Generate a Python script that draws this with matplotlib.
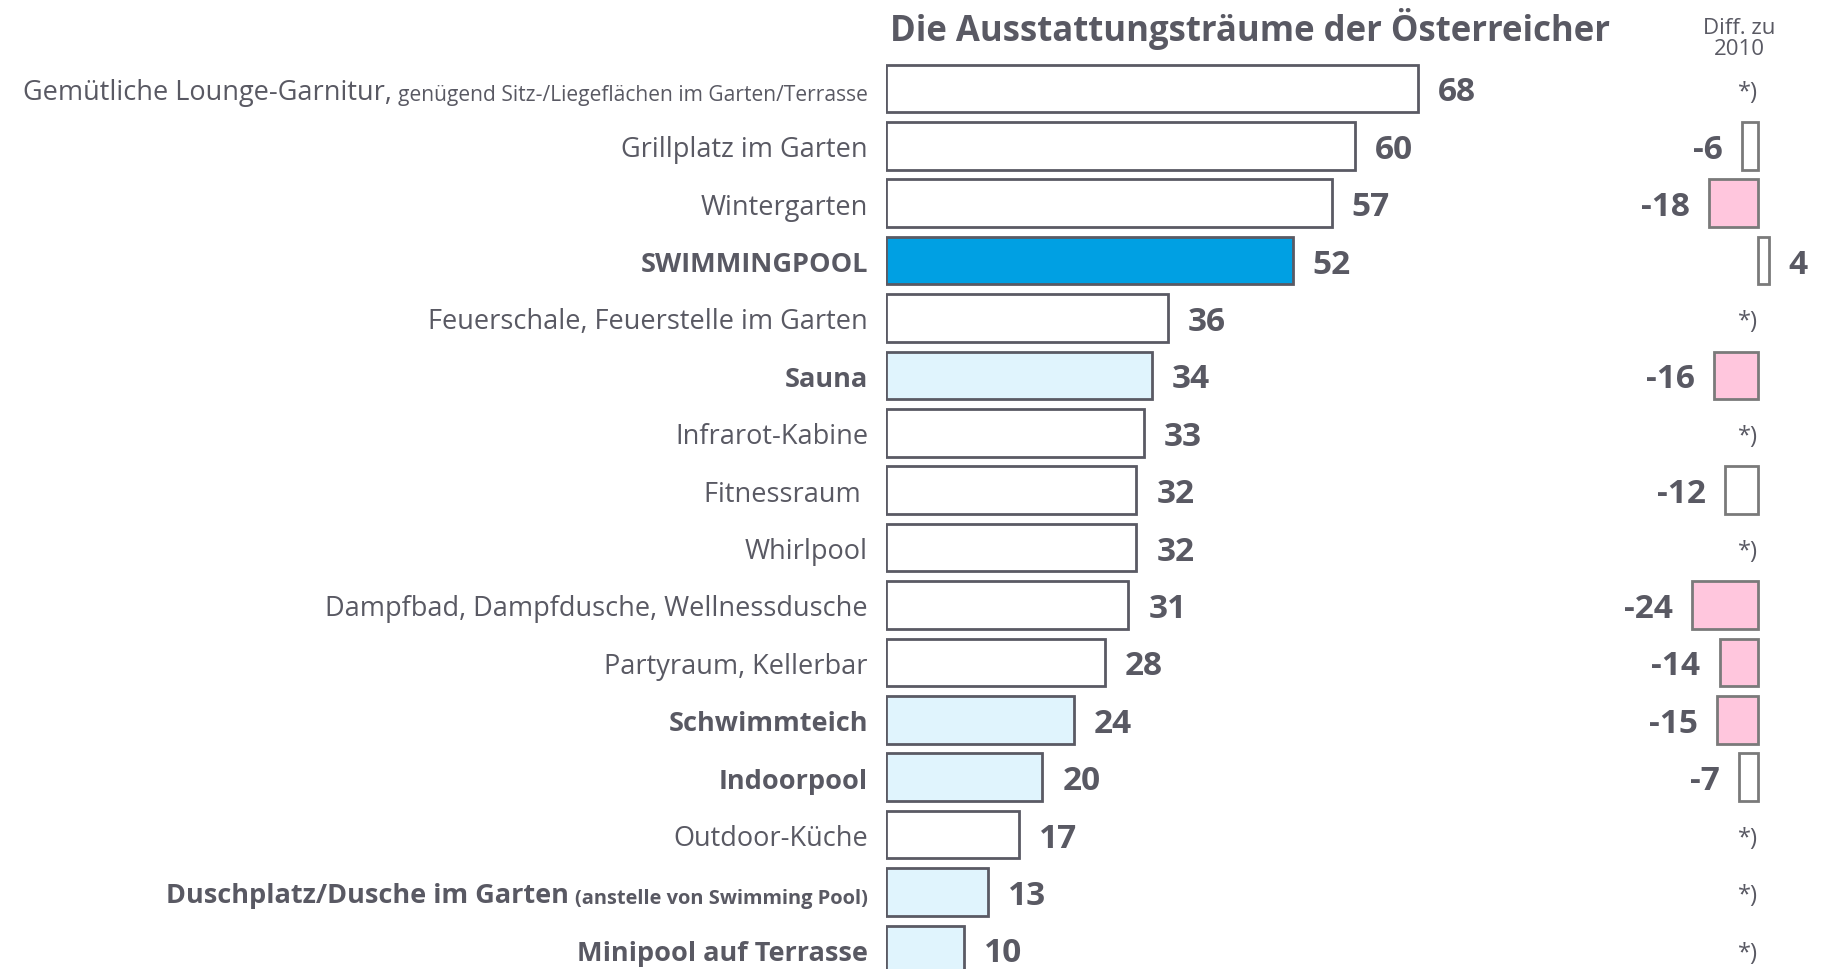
import matplotlib.pyplot as plt

# Daten
kategorien = [
    "Gemütliche Lounge-Garnitur,",
    "Grillplatz im Garten",
    "Wintergarten",
    "SWIMMINGPOOL",
    "Feuerschale, Feuerstelle im Garten",
    "Sauna",
    "Infrarot-Kabine",
    "Fitnessraum ",
    "Whirlpool",
    "Dampfbad, Dampfdusche, Wellnessdusche",
    "Partyraum, Kellerbar",
    "Schwimmteich",
    "Indoorpool",
    "Outdoor-Küche",
    "Duschplatz/Dusche im Garten",
    "Minipool auf Terrasse",
]
zusatz = {0: "genügend Sitz-/Liegeflächen im Garten/Terrasse",
          14: "(anstelle von Swimming Pool)"}
werte = [68, 60, 57, 52, 36, 34, 33, 32, 32, 31, 28, 24, 20, 17, 13, 10]
diff_2010 = [None, -6, -18, 4, None, -16, None, -12, None, -24, -14, -15, -7, None, None, None]
typ = ["n", "n", "n", "pool", "n", "w", "n", "n", "n", "n", "n", "w", "w", "n", "w", "w"]

text_farbe = "#595963"
fuell = {"n": "white", "pool": "#00A0E3", "w": "#E0F4FD"}

plt.rcParams['font.family'] = ['Open Sans', 'DejaVu Sans']

W, H = 1821, 970
fig = plt.figure(figsize=(W / 100, H / 100), dpi=100)
renderer = fig.canvas.get_renderer()

# Zeilenlage in Pixeln
y0, dy = 89.4, 57.4
ylim = ((H - y0) / dy, -y0 / dy)
ty = 0.06  # Text etwas tiefer setzen

# Hauptbalken
x0, px_pro_einheit = 886, 7.82
ax = fig.add_axes([x0 / W, 0, (W - x0) / W, 1])
ax.set_xlim(0, (W - x0) / px_pro_einheit)
ax.set_ylim(*ylim)
ax.axis("off")

for i, (k, v) in enumerate(zip(kategorien, werte)):
    gewicht = "normal" if typ[i] == "n" else "bold"
    ax.barh(i, v, height=0.83, color=fuell[typ[i]], edgecolor="#5A5A64", linewidth=2)
    ax.text(v + 20 / px_pro_einheit, i + ty, str(v), va="center", ha="left",
            fontsize=24, fontweight="bold", color=text_farbe)
    lx = -18 / px_pro_einheit
    if i in zusatz:
        t = ax.text(lx, i + ty + 0.05, zusatz[i], ha="right", va="center",
                    fontsize=15.1 if i == 0 else 14.4,
                    color=text_farbe, fontweight=gewicht, clip_on=False)
        bb = t.get_window_extent(renderer)
        lx = ax.transData.inverted().transform((bb.x0 - 6, 0))[0]
    ax.text(lx, i + ty, k, ha="right", va="center", fontsize=19.5, color=text_farbe,
            fontweight=gewicht, clip_on=False)

fig.text(1250 / W, 1 - 29 / H, "Die Ausstattungsträume der Österreicher", ha="center",
         va="center", fontsize=25, fontweight="bold", color=text_farbe)
fig.text(1739 / W, 1 - 39 / H, "Diff. zu\n2010", ha="center", va="center",
         fontsize=16, color=text_farbe, linespacing=0.95)

# Differenz zu 2010
null_x, d_px = 1758, 2.75
ax2 = fig.add_axes([1560 / W, 0, (W - 1560) / W, 1])
ax2.set_xlim(-(null_x - 1560) / d_px, (W - null_x) / d_px)
ax2.set_ylim(*ylim)
ax2.axis("off")
ax2.patch.set_alpha(0)

for i, d in enumerate(diff_2010):
    if d is None:
        ax2.text(0, i + ty, "*)", ha="right", va="center", fontsize=17, color=text_farbe)
        continue
    farbe = "#FFC6DD" if d <= -14 else "white"
    ax2.barh(i, d, height=0.83, color=farbe, edgecolor="#7A7A7A", linewidth=2)
    off = 19 / d_px
    if d < 0:
        ax2.text(d - off, i + ty, str(d), ha="right", va="center", fontsize=24,
                 fontweight="bold", color=text_farbe)
    else:
        ax2.text(d + off, i + ty, str(d), ha="left", va="center", fontsize=24,
                 fontweight="bold", color=text_farbe)

fig.savefig("out.png", dpi=100)
